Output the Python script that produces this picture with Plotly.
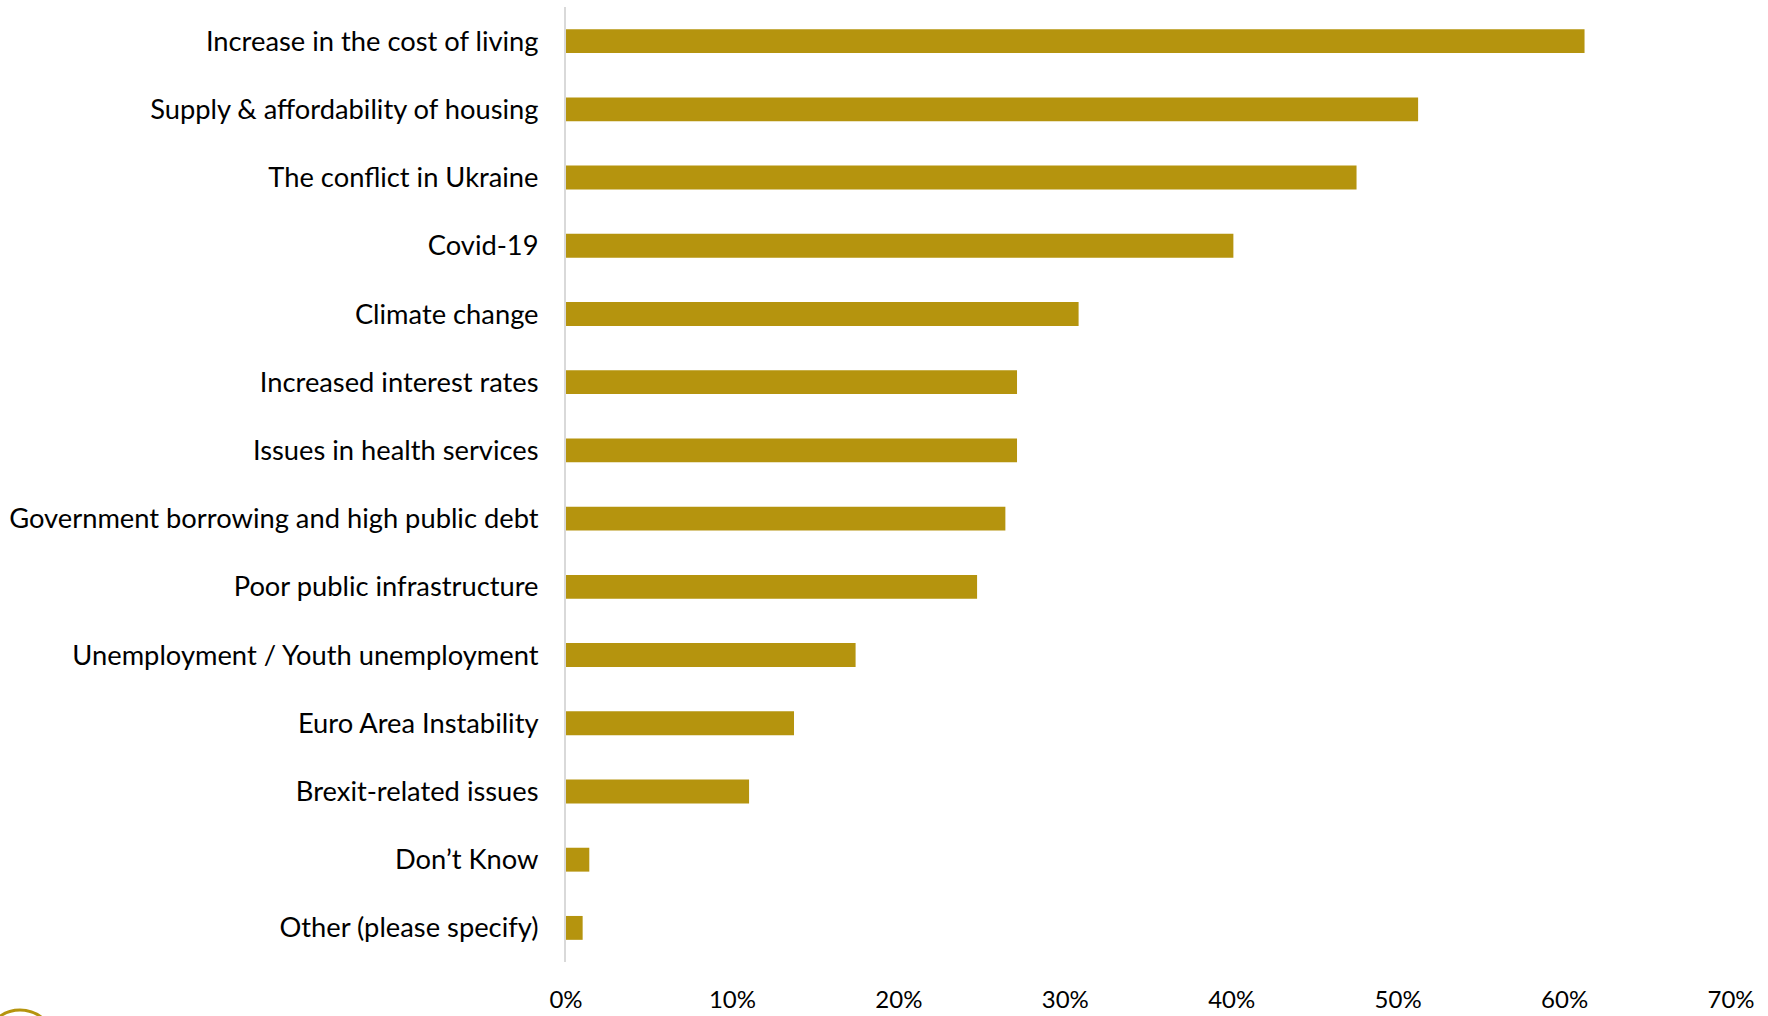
import plotly.graph_objects as go

# Survey responses: share of respondents naming each issue
issues = [
    "Increase in the cost of living",
    "Supply & affordability of housing",
    "The conflict in Ukraine",
    "Covid-19",
    "Climate change",
    "Increased interest rates",
    "Issues in health services",
    "Government borrowing and high public debt",
    "Poor public infrastructure",
    "Unemployment / Youth unemployment",
    "Euro Area Instability",
    "Brexit-related issues",
    "Don\u2019t Know",
    "Other (please specify)",
]
shares = [0.612, 0.512, 0.475, 0.401, 0.308, 0.271, 0.271, 0.264, 0.247, 0.174, 0.137, 0.110, 0.014, 0.010]
x_ticks = [0, 0.1, 0.2, 0.3, 0.4, 0.5, 0.6, 0.7]
x_tick_labels = ["0%", "10%", "20%", "30%", "40%", "50%", "60%", "70%"]

BAR_COLOR = "#B5940E"
FONT = "Lato, Carlito, 'Open Sans', sans-serif"

fig = go.Figure(
    go.Bar(
        x=shares,
        y=issues,
        orientation="h",
        width=0.35,
        marker=dict(color=BAR_COLOR, line=dict(width=0)),
        hovertemplate="%{y}: %{x:.0%}<extra></extra>",
    )
)

fig.update_layout(
    width=1768,
    height=1016,
    margin=dict(l=566, r=37, t=7, b=54),
    paper_bgcolor="white",
    plot_bgcolor="white",
    font=dict(family=FONT, size=24, color="#000000"),
    showlegend=False,
)

fig.update_xaxes(
    range=[0, 0.7],
    tickvals=x_ticks,
    ticktext=x_tick_labels,
    showgrid=False,
    zeroline=False,
    showline=False,
    ticks="",
    tickfont=dict(size=24),
    ticklabelstandoff=21,
    automargin=False,
)

fig.update_yaxes(
    categoryorder="array",
    categoryarray=issues[::-1],
    showgrid=False,
    zeroline=False,
    showline=True,
    linecolor="#D9D9D9",
    linewidth=2,
    ticks="",
    tickfont=dict(size=27.3),
    ticklabelstandoff=20,
    automargin=False,
)

# Corner logo emblem, mostly below the page edge
fig.add_shape(
    type="circle",
    xref="paper", yref="paper",
    x0=(-15 - 566) / 1165, x1=(55 - 566) / 1165,
    y0=-118 / 955, y1=-48 / 955,
    line=dict(color=BAR_COLOR, width=3),
    fillcolor="rgba(0,0,0,0)",
)

fig.write_html("out.html")
